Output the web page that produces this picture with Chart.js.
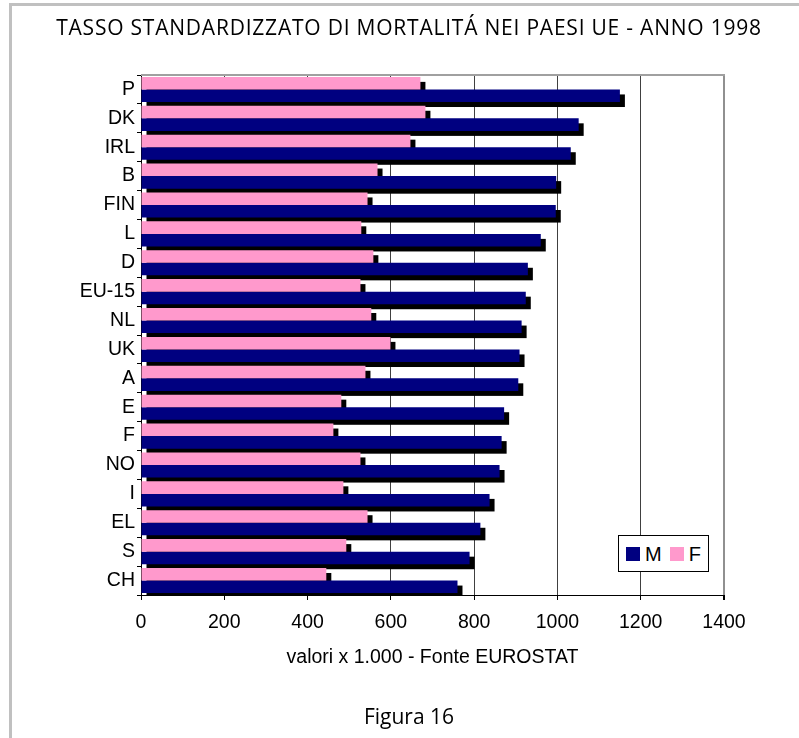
<!DOCTYPE html>
<html>
<head>
<meta charset="utf-8">
<script src="https://cdn.jsdelivr.net/npm/chart.js@4"></script>
<style>
  html, body { margin: 0; padding: 0; background: #fff; }
  #wrap { position: relative; width: 799px; height: 738px; overflow: hidden; }
  #chart { position: absolute; left: 0; top: 0; }
  .frame-left { position: absolute; left: 9px; top: 3px; width: 3px; height: 735px; background: #c0c0c0; }
  .frame-top { position: absolute; left: 9px; top: 3px; width: 790px; height: 3px; background: #c0c0c0; }
  #title { position: absolute; left: 0; top: 17px; width: 818px; text-align: center; letter-spacing: 0.78px;
           font: 21px/21px "Open Sans", sans-serif; color: #000; white-space: nowrap; }
  #figura { position: absolute; left: 0; top: 706px; width: 818px; text-align: center;
            font: 21px/21px "Open Sans", sans-serif; color: #000; }
  #legend { position: absolute; left: 618px; top: 535px; width: 91px; height: 37px; box-sizing: border-box;
            border: 1px solid #000; background: #fff; display: flex; align-items: center; padding-left: 7px;
            font: 20px/20px "Liberation Sans", Arial, sans-serif; color: #000; }
  #legend .sw { display: inline-block; width: 14px; height: 14px; margin-right: 5px; }
  #legend .item { display: flex; align-items: center; margin-right: 8px; }
</style>
</head>
<body>
<div id="wrap">
  <canvas id="chart" width="799" height="738"></canvas>
  <div class="frame-left"></div>
  <div class="frame-top"></div>
  <div id="title">TASSO STANDARDIZZATO DI MORTALITÁ NEI PAESI UE - ANNO 1998</div>
  <div id="legend"></div>
  <div id="figura">Figura 16</div>
</div>
<script>
// ===== 数据 =====
var categories = ['P', 'DK', 'IRL', 'B', 'FIN', 'L', 'D', 'EU-15', 'NL', 'UK', 'A', 'E', 'F', 'NO', 'I', 'EL', 'S', 'CH'];
var maleValues = [1150, 1051, 1032, 997, 996, 960, 929, 924, 914, 909, 906, 872, 866, 861, 837, 815, 789, 760];
var femaleValues = [671, 683, 647, 568, 544, 529, 558, 527, 553, 599, 539, 481, 462, 527, 486, 544, 493, 445];
var xTickValues = [0, 200, 400, 600, 800, 1000, 1200, 1400];
var seriesNames = ['M', 'F'];
var seriesColors = ['#000080', '#FF99CC'];
var axisTitle = 'valori x 1.000 - Fonte EUROSTAT';

var AXIS_FONT = { family: '"Liberation Sans", Arial, sans-serif', size: 19.5 };
var SHADOW = 5;

// ===== 阴影插件 =====
var shadowPlugin = {
  id: 'barShadow',
  beforeDatasetsDraw: function(chart) {
    var ctx = chart.ctx;
    var area = chart.chartArea;
    ctx.save();
    ctx.beginPath();
    ctx.rect(area.left, area.top, area.right - area.left, area.bottom - area.top);
    ctx.clip();
    ctx.fillStyle = '#000';
    chart.data.datasets.forEach(function(ds, i) {
      chart.getDatasetMeta(i).data.forEach(function(bar) {
        var p = bar.getProps(['x', 'y', 'base', 'height'], true);
        ctx.fillRect(p.base + SHADOW, p.y - p.height / 2 + SHADOW, p.x - p.base, p.height);
      });
    });
    ctx.restore();
  },
  afterDraw: function(chart) {
    // 绘图区上边框
    var ctx = chart.ctx;
    var area = chart.chartArea;
    ctx.save();
    ctx.strokeStyle = '#a0a0a0';
    ctx.lineWidth = 2;
    ctx.beginPath();
    ctx.moveTo(area.left, area.top);
    ctx.lineTo(area.right + 1, area.top);
    ctx.stroke();
    ctx.restore();
  }
};

// ===== 图例 =====
var legendEl = document.getElementById('legend');
seriesNames.forEach(function(name, i) {
  var item = document.createElement('span');
  item.className = 'item';
  item.innerHTML = '<span class="sw" style="background:' + seriesColors[i] + '"></span>' + name;
  legendEl.appendChild(item);
});

// ===== 图表 =====
new Chart(document.getElementById('chart'), {
  type: 'bar',
  data: {
    labels: categories,
    datasets: [
      { label: seriesNames[1], data: femaleValues, backgroundColor: seriesColors[1], borderWidth: 0,
        categoryPercentage: 0.87, barPercentage: 1.0 },
      { label: seriesNames[0], data: maleValues, backgroundColor: seriesColors[0], borderWidth: 0,
        categoryPercentage: 0.87, barPercentage: 1.0 }
    ]
  },
  options: {
    indexAxis: 'y',
    responsive: false,
    animation: false,
    layout: { padding: { left: 0, right: 75, top: 75, bottom: 0 } },
    plugins: {
      legend: { display: false },
      tooltip: { enabled: false }
    },
    scales: {
      x: {
        type: 'linear',
        min: 0,
        max: 1400,
        afterBuildTicks: function(scale) {
          scale.ticks = xTickValues.map(function(v) { return { value: v }; });
        },
        afterFit: function(scale) { scale.height = 143; },
        ticks: {
          font: AXIS_FONT, color: '#000', padding: 11, maxRotation: 0,
          callback: function(v) { return String(v); }
        },
        grid: {
          color: function(c) { return c.tick && c.tick.value === 1400 ? '#909090' : '#404040'; },
          lineWidth: function(c) { return c.tick && c.tick.value === 1400 ? 2 : 1; },
          tickLength: 5,
          tickColor: '#000'
        },
        border: { display: true, color: '#000', width: 1 },
        title: { display: true, text: axisTitle, color: '#000',
                 font: { family: AXIS_FONT.family, size: 19.5 }, padding: { top: 0, bottom: 69 } }
      },
      y: {
        type: 'category',
        offset: true,
        afterFit: function(scale) { scale.width = 141; },
        ticks: { font: AXIS_FONT, color: '#000', padding: 2 },
        grid: { drawOnChartArea: false, offset: true, tickLength: 4, color: '#000' },
        border: { display: true, color: '#000', width: 1 }
      }
    }
  },
  plugins: [shadowPlugin]
});
</script>
</body>
</html>
